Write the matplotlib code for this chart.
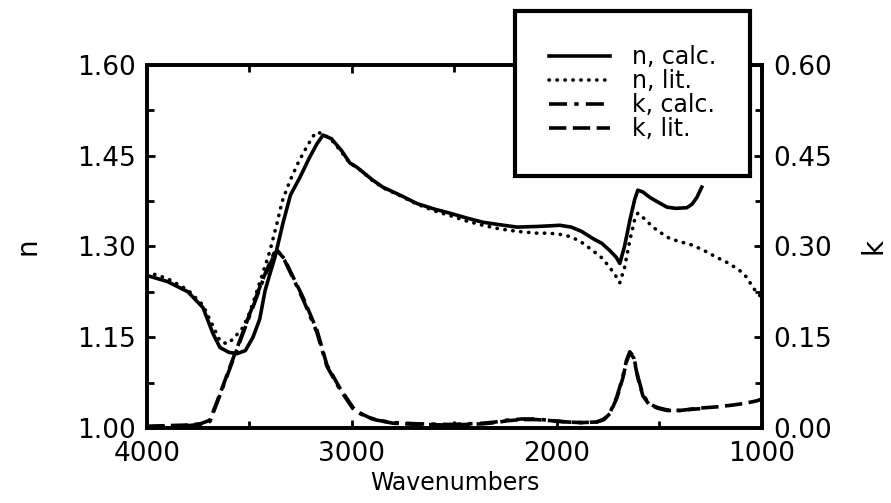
import matplotlib.pyplot as plt
from matplotlib.ticker import FixedLocator, FormatStrFormatter

# Refractive index n, calculated
wn_n_calc = [4000, 3900, 3800, 3727, 3678, 3644, 3600, 3560, 3520, 3483, 3450,
             3424, 3400, 3376, 3337, 3300, 3254, 3210, 3170, 3141, 3100, 3050,
             3010, 2976, 2900, 2849, 2760, 2683, 2600, 2522, 2440, 2361, 2280,
             2195, 2100, 2040, 1985, 1930, 1880, 1824, 1780, 1741, 1710, 1693,
             1670, 1644, 1620, 1605, 1580, 1546, 1500, 1463, 1420, 1366, 1340,
             1317, 1293]
n_calc = [1.252, 1.242, 1.225, 1.199, 1.156, 1.133, 1.125, 1.123, 1.128, 1.150, 1.180,
          1.227, 1.255, 1.282, 1.338, 1.385, 1.414, 1.445, 1.470, 1.484, 1.478, 1.458,
          1.438, 1.431, 1.410, 1.398, 1.384, 1.371, 1.362, 1.355, 1.347, 1.340, 1.336,
          1.332, 1.333, 1.334, 1.335, 1.332, 1.325, 1.313, 1.305, 1.293, 1.282, 1.272,
          1.300, 1.343, 1.378, 1.393, 1.390, 1.381, 1.372, 1.365, 1.363, 1.364, 1.370,
          1.381, 1.398]

# Refractive index n, literature
wn_n_lit = [4000, 3900, 3800, 3727, 3680, 3644, 3610, 3580, 3532, 3500, 3463,
            3415, 3400, 3366, 3340, 3302, 3260, 3220, 3190, 3171, 3141, 3100,
            3050, 3010, 2976, 2900, 2849, 2760, 2683, 2600, 2522, 2440, 2361,
            2280, 2195, 2100, 2040, 1985, 1930, 1880, 1824, 1780, 1741, 1710,
            1693, 1670, 1644, 1620, 1605, 1570, 1532, 1490, 1449, 1400, 1337,
            1280, 1220, 1160, 1107, 1070, 1044, 1020, 1000]
n_lit = [1.258, 1.247, 1.228, 1.203, 1.170, 1.144, 1.139, 1.147, 1.166, 1.190, 1.227,
         1.277, 1.293, 1.338, 1.375, 1.409, 1.440, 1.465, 1.482, 1.489, 1.486, 1.476,
         1.456, 1.437, 1.431, 1.409, 1.397, 1.383, 1.370, 1.359, 1.351, 1.342, 1.335,
         1.329, 1.325, 1.322, 1.322, 1.320, 1.316, 1.307, 1.293, 1.281, 1.265, 1.250,
         1.240, 1.265, 1.310, 1.345, 1.355, 1.345, 1.332, 1.322, 1.313, 1.308, 1.302,
         1.293, 1.282, 1.272, 1.260, 1.248, 1.232, 1.223, 1.215]

# Extinction coefficient k, calculated
wn_k_calc = [4000, 3900, 3800, 3740, 3693, 3640, 3580, 3530, 3483, 3430, 3376,
             3360, 3330, 3302, 3239, 3171, 3122, 3059, 2995, 2961, 2920, 2878,
             2800, 2683, 2520, 2361, 2300, 2244, 2170, 2098, 2020, 1951, 1880,
             1805, 1770, 1741, 1707, 1678, 1660, 1644, 1625, 1605, 1580, 1550,
             1510, 1463, 1400, 1340, 1300]
k_calc = [0.002, 0.003, 0.004, 0.006, 0.011, 0.058, 0.113, 0.158, 0.200, 0.248, 0.288,
          0.292, 0.278, 0.258, 0.213, 0.158, 0.102, 0.064, 0.032, 0.024, 0.017, 0.013,
          0.009, 0.007, 0.006, 0.008, 0.010, 0.013, 0.015, 0.015, 0.012, 0.010, 0.009,
          0.010, 0.015, 0.025, 0.052, 0.085, 0.112, 0.126, 0.118, 0.085, 0.055, 0.040,
          0.034, 0.030, 0.029, 0.031, 0.032]

# Extinction coefficient k, literature
wn_k_lit = [4000, 3900, 3800, 3740, 3693, 3640, 3580, 3530, 3483, 3430, 3380,
            3360, 3330, 3302, 3239, 3171, 3122, 3059, 2995, 2961, 2920, 2878,
            2800, 2683, 2520, 2361, 2300, 2244, 2170, 2098, 2020, 1951, 1880,
            1805, 1770, 1741, 1707, 1678, 1660, 1644, 1625, 1605, 1580, 1550,
            1510, 1463, 1400, 1300, 1220, 1141, 1080, 1024, 1000]
k_lit = [0.003, 0.004, 0.005, 0.007, 0.013, 0.060, 0.115, 0.160, 0.203, 0.250, 0.289,
         0.291, 0.280, 0.260, 0.216, 0.162, 0.104, 0.066, 0.034, 0.025, 0.018, 0.013,
         0.008, 0.006, 0.005, 0.007, 0.009, 0.012, 0.014, 0.014, 0.012, 0.010, 0.009,
         0.010, 0.014, 0.024, 0.050, 0.083, 0.110, 0.124, 0.116, 0.083, 0.053, 0.039,
         0.033, 0.029, 0.029, 0.033, 0.035, 0.038, 0.041, 0.045, 0.048]

# axis ticks
x_major = [4000, 3000, 2000, 1000]
x_minor = [3500, 2500, 1500]
n_major = [1.00, 1.15, 1.30, 1.45, 1.60]
n_minor = [1.075, 1.225, 1.375, 1.525]
k_major = [0.00, 0.15, 0.30, 0.45, 0.60]
k_minor = [0.075, 0.225, 0.375, 0.525]

plt.rcParams['font.family'] = 'DejaVu Sans'

fig = plt.figure(figsize=(8.91, 5.03), dpi=100)
ax = fig.add_axes([0.165, 0.149, 0.690, 0.722])
ax2 = ax.twinx()

lw = 2.6
l1, = ax.plot(wn_n_calc, n_calc, color='black', lw=lw, ls='-', label='n, calc.')
l2, = ax.plot(wn_n_lit, n_lit, color='black', lw=lw, ls=(0, (0.1, 2.1)),
              dash_capstyle='round', label='n, lit.')
l3, = ax2.plot(wn_k_calc, k_calc, color='black', lw=lw, ls=(0, (5, 2, 1.2, 2)), label='k, calc.')
l4, = ax2.plot(wn_k_lit, k_lit, color='black', lw=lw, ls=(0, (4.8, 1.8)), label='k, lit.')

ax.set_xlim(4000, 1000)
ax.set_ylim(1.00, 1.60)
ax2.set_ylim(0.00, 0.60)

ax.xaxis.set_major_locator(FixedLocator(x_major))
ax.xaxis.set_minor_locator(FixedLocator(x_minor))
ax.yaxis.set_major_locator(FixedLocator(n_major))
ax.yaxis.set_minor_locator(FixedLocator(n_minor))
ax.yaxis.set_major_formatter(FormatStrFormatter('%.2f'))
ax2.yaxis.set_major_locator(FixedLocator(k_major))
ax2.yaxis.set_minor_locator(FixedLocator(k_minor))
ax2.yaxis.set_major_formatter(FormatStrFormatter('%.2f'))

for a in (ax, ax2):
    for s in a.spines.values():
        s.set_linewidth(2.6)
ax.tick_params(axis='both', which='both', direction='in', width=2, labelsize=19)
ax.tick_params(axis='x', which='both', top=True, pad=9)
ax.tick_params(axis='both', which='major', length=6)
ax.tick_params(axis='both', which='minor', length=5)
ax.tick_params(axis='y', pad=8)
ax2.tick_params(axis='y', which='both', direction='in', width=2, labelsize=19, pad=8)
ax2.tick_params(axis='y', which='major', length=6)
ax2.tick_params(axis='y', which='minor', length=5)

ax.set_xlabel('Wavenumbers', fontsize=17, labelpad=3)
ax.set_ylabel('n', fontsize=20, labelpad=26)
ax2.set_ylabel('k', fontsize=20, labelpad=20)

# legend sits on the twin axes so that its frame covers both sets of curves
leg = ax2.legend(handles=[l1, l2, l3, l4], loc='upper left',
                 bbox_to_anchor=(0.598, 1.148), borderaxespad=0,
                 fontsize=17, labelspacing=0.0,
                 handlelength=2.6, handletextpad=0.9, borderpad=1.45,
                 fancybox=False, framealpha=1, edgecolor='black')
leg.get_frame().set_linewidth(3)
leg.set_zorder(10)

fig.savefig('out.png', dpi=100)
